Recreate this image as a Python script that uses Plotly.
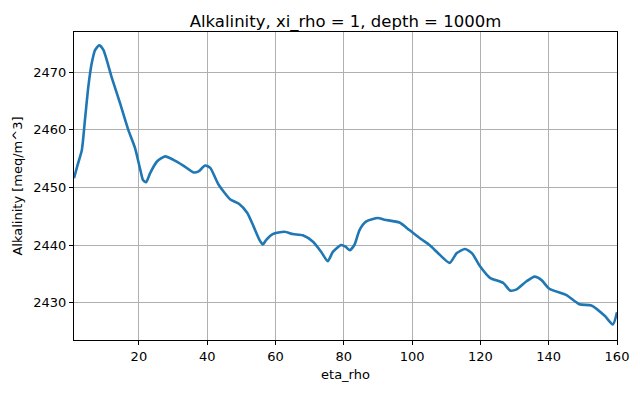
import plotly.graph_objects as go

eta_rho = [1.0, 2.0, 3.3, 4.2, 5.2, 6.2, 7.2, 8.4, 9.6, 12.1, 14.5, 16.9, 18.9, 20.4, 21.2,
           22.1, 23.3, 25.3, 27.7, 30.1, 33.0, 36.0, 37.5, 39.4, 40.9, 43.3, 46.8, 49.2,
           51.7, 53.6, 55.3, 56.3, 57.3, 59.2, 62.6, 65.1, 68.0, 70.9, 73.4, 75.3, 76.8,
           79.2, 80.5, 81.7, 83.1, 84.6, 86.6, 90.0, 91.9, 96.3, 99.2, 102.7, 105.1, 108.1,
           111.0, 113.1, 115.5, 117.5, 119.9, 122.8, 126.7, 128.7, 130.6, 133.5, 135.9,
           137.9, 140.2, 145.2, 149.0, 152.5, 156.4, 158.8, 160.0]
alkalinity = [2451.6, 2453.8, 2456.5, 2461.7, 2467.5, 2471.6, 2473.9, 2474.7, 2473.9, 2469.0,
              2464.6, 2460.0, 2456.8, 2453.1, 2451.3, 2450.9, 2452.5, 2454.5, 2455.4, 2454.8,
              2453.8, 2452.6, 2452.8, 2453.8, 2453.4, 2450.5, 2447.9, 2447.2, 2445.6, 2443.2,
              2440.9, 2440.1, 2440.9, 2441.9, 2442.3, 2441.9, 2441.7, 2440.6, 2438.8, 2437.2,
              2438.8, 2440.0, 2439.7, 2439.1, 2440.0, 2442.6, 2444.1, 2444.7, 2444.4, 2443.9,
              2442.6, 2441.0, 2440.0, 2438.3, 2436.9, 2438.6, 2439.3, 2438.6, 2436.3, 2434.3,
              2433.4, 2432.1, 2432.3, 2433.7, 2434.5, 2433.9, 2432.4, 2431.3, 2429.7, 2429.5,
              2427.7, 2426.2, 2428.3]

x_ticks = [20, 40, 60, 80, 100, 120, 140, 160]
y_ticks = [2430, 2440, 2450, 2460, 2470]

FONT = "DejaVu Sans"

fig = go.Figure()
fig.add_trace(go.Scatter(x=eta_rho, y=alkalinity, mode="lines",
                         line=dict(color="#1f77b4", width=2.6, shape="spline", smoothing=0.6),
                         showlegend=False))

axis_common = dict(showline=True, linecolor="black", linewidth=1, mirror=True,
                   ticks="outside", ticklen=4, tickcolor="black", tickwidth=1,
                   showgrid=True, gridcolor="#b0b0b0", gridwidth=1, zeroline=False,
                   tickfont=dict(family=FONT, size=13, color="black"))

fig.update_xaxes(range=[1, 160], tickvals=x_ticks,
                 title=dict(text="eta_rho", font=dict(family=FONT, size=13, color="black"), standoff=7),
                 **axis_common)
fig.update_yaxes(range=[2423.5, 2477.0], tickvals=y_ticks,
                 title=dict(text="Alkalinity [meq/m^3]", font=dict(family=FONT, size=13, color="black"), standoff=7),
                 **axis_common)

fig.update_layout(
    width=640, height=393,
    margin=dict(l=74, r=23, t=32, b=53),
    paper_bgcolor="white", plot_bgcolor="white",
    title=dict(text="Alkalinity, xi_rho = 1, depth = 1000m", x=0.5, xref="paper",
               y=1, yref="paper", yanchor="bottom", pad=dict(b=5),
               font=dict(family=FONT, size=16.5, color="black")),
    font=dict(family=FONT),
)

fig.write_html("out.html")
